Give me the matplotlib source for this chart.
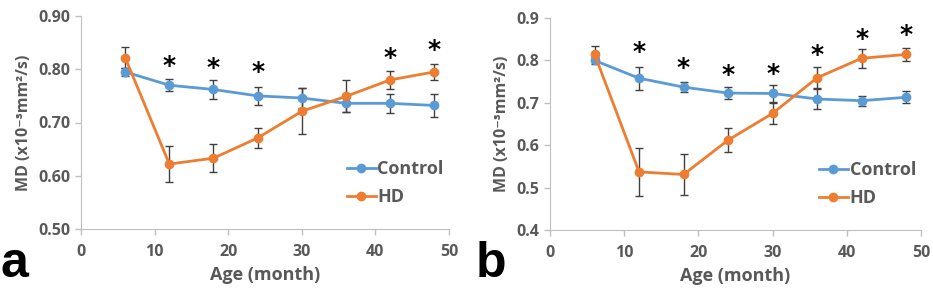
import matplotlib
matplotlib.use("Agg")
import matplotlib.pyplot as plt

# ---------- Data ----------
age = [6, 12, 18, 24, 30, 36, 42, 48]

# panel a
ctrl_a = [0.795, 0.770, 0.762, 0.750, 0.746, 0.736, 0.736, 0.732]
ctrl_a_err = [0.008, 0.011, 0.017, 0.017, 0.018, 0.017, 0.018, 0.022]
hd_a = [0.822, 0.622, 0.633, 0.671, 0.721, 0.749, 0.780, 0.795]
hd_a_err = [0.019, 0.034, 0.026, 0.019, 0.043, 0.030, 0.017, 0.015]
star_a_x = [12, 18, 24, 42, 48]
star_a_y = [0.807, 0.803, 0.795, 0.822, 0.836]

# panel b
ctrl_b = [0.800, 0.758, 0.737, 0.723, 0.722, 0.709, 0.705, 0.713]
ctrl_b_err = [0.008, 0.027, 0.012, 0.014, 0.019, 0.024, 0.012, 0.014]
hd_b = [0.815, 0.537, 0.531, 0.612, 0.675, 0.759, 0.805, 0.814]
hd_b_err = [0.019, 0.056, 0.048, 0.029, 0.025, 0.025, 0.022, 0.015]
star_b_x = [12, 18, 24, 30, 36, 42, 48]
star_b_y = [0.820, 0.783, 0.766, 0.768, 0.812, 0.851, 0.859]

BLUE = "#5B9BD5"
ORANGE = "#ED7D31"
GRAY = "#595959"
AX_GRAY = "#BFBFBF"

plt.rcParams["font.family"] = ["Open Sans", "DejaVu Sans"]
plt.rcParams["font.weight"] = "bold"

fig = plt.figure(figsize=(9.33, 2.88), dpi=100)
W, H = 933, 288


def make_panel(rect, ctrl, ctrl_err, hd, hd_err, sx, sy, ylim, yticks, yfmt, letter, letter_x):
    l, r, t, b = rect
    ax = fig.add_axes([l / W, 1 - b / H, (r - l) / W, (b - t) / H])
    for vals, err, col, lab in [(ctrl, ctrl_err, BLUE, "Control"), (hd, hd_err, ORANGE, "HD")]:
        ax.errorbar(age, vals, yerr=err, fmt="none", ecolor="#404040",
                    elinewidth=1, capsize=3, capthick=1, zorder=2)
        ax.plot(age, vals, color=col, lw=2, marker="o", ms=6, label=lab, zorder=3)
    for x, y in zip(sx, sy):
        ax.text(x, y, "*", fontsize=18, fontweight="bold", color="black",
                ha="center", va="center", family="DejaVu Sans")
    ax.set_xlim(0, 50)
    ax.set_ylim(*ylim)
    ax.set_xticks(range(0, 51, 10))
    ax.set_yticks(yticks)
    ax.set_yticklabels([yfmt.format(v) for v in yticks])
    for s in ["top", "right"]:
        ax.spines[s].set_visible(False)
    for s in ["left", "bottom"]:
        ax.spines[s].set_color(AX_GRAY)
    ax.tick_params(colors=AX_GRAY, labelcolor=GRAY, labelsize=11.5, length=4, width=1)
    ax.tick_params(axis="x", pad=7)
    ax.set_xlabel("Age (month)", fontsize=13, color=GRAY, fontweight="bold", labelpad=4)
    ax.set_ylabel("MD (x10\u207b\u00b3mm\u00b2/s)", fontsize=11.5, color=GRAY,
                  fontweight="bold", labelpad=5)
    leg = ax.legend(loc="lower right", bbox_to_anchor=(1.03, 0.03), frameon=False,
                    fontsize=13, handlelength=1.6, handletextpad=0.1,
                    labelspacing=0.55, labelcolor=GRAY)
    for txt in leg.get_texts():
        txt.set_fontweight("bold")
    fig.text(letter_x / W, 1 - 277 / H, letter, fontsize=36, fontweight="bold",
             color="black", va="baseline", ha="left", family="Liberation Sans")
    return ax


make_panel((81, 449, 16, 229), ctrl_a, ctrl_a_err, hd_a, hd_a_err,
           star_a_x, star_a_y, (0.5, 0.9), [0.5, 0.6, 0.7, 0.8, 0.9], "{:.2f}", "a", 1)
make_panel((550, 921, 18, 230), ctrl_b, ctrl_b_err, hd_b, hd_b_err,
           star_b_x, star_b_y, (0.4, 0.9), [0.4, 0.5, 0.6, 0.7, 0.8, 0.9], "{:.1f}", "b", 476)

fig.savefig("out.png", dpi=100)
